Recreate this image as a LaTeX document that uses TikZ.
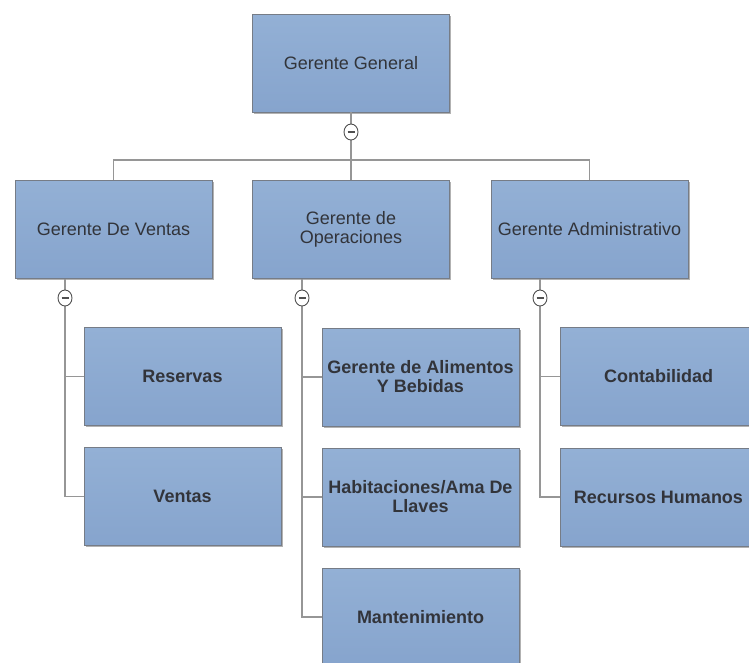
\documentclass[tikz,border=0pt]{standalone}
\usepackage{fontspec}
\setmainfont{Liberation Sans}
\usetikzlibrary{shadows,shapes.geometric}
\definecolor{boxtop}{RGB}{147,176,213}
\definecolor{boxbot}{RGB}{134,164,205}
\definecolor{boxline}{RGB}{118,124,134}
\definecolor{txt}{RGB}{50,52,58}
\definecolor{conn}{RGB}{150,150,150}
\definecolor{togline}{RGB}{80,80,80}
\begin{document}
\begin{tikzpicture}[x=1pt,y=-1pt,
  orgbox/.style={draw=boxline, line width=0.8pt, top color=boxtop, bottom color=boxbot,
    minimum width=197pt, minimum height=98pt, inner sep=2pt, align=center, text=txt,
    font=\fontsize{18}{19}\selectfont,
    drop shadow={shadow xshift=1.8pt, shadow yshift=-1.8pt, opacity=0.3, fill=black}},
  subbox/.style={orgbox, font=\fontsize{18}{19}\selectfont\bfseries},
  toggle/.style={ellipse, draw=togline, fill=white, line width=0.9pt,
    minimum width=14pt, minimum height=16pt, inner sep=0pt,
    path picture={\draw[line width=1.8pt, togline]
      ([xshift=-3.5pt]path picture bounding box.center) -- ([xshift=3.5pt]path picture bounding box.center);}},
  wire/.style={draw=conn, line width=1.3pt}]
\useasboundingbox (0,0) rectangle (749,662);
\clip (0,0) rectangle (749,662);
% boxes
\node[orgbox] (gg) at (351,63) {Gerente General};
\node[orgbox] (gv) at (113.5,229.5) {Gerente De Ventas};
\node[orgbox] (go) at (351,229.5) {Gerente de\\Operaciones};
\node[orgbox] (ga) at (589.5,229.5) {Gerente Administrativo};
\node[subbox] (res) at (182.5,376.5) {Reservas};
\node[subbox] (ven) at (182.5,496.5) {Ventas};
\node[subbox] (gab) at (420.5,377) {Gerente de Alimentos\\Y Bebidas};
\node[subbox] (hab) at (420.5,497) {Habitaciones/Ama De\\Llaves};
\node[subbox] (man) at (420.5,617) {Mantenimiento};
\node[subbox] (con) at (658.5,376.5) {Contabilidad};
\node[subbox] (rh) at (658.5,497) {Recursos Humanos};
% toggle positions
\coordinate (t0) at (351,132);
\coordinate (t1) at (65,298);
\coordinate (t2) at (302,298);
\coordinate (t3) at (540,298);
% connectors
\draw[wire] (gg.south) -- (go.north);
\draw[wire] (gv.north) -- ++(0,-20) -| (ga.north);
\draw[wire] (t1 |- gv.south) -- (t1 |- ven.west) -- (ven.west);
\draw[wire] (t1 |- res.west) -- (res.west);
\draw[wire] (t2 |- go.south) -- (t2 |- man.west) -- (man.west);
\draw[wire] (t2 |- gab.west) -- (gab.west);
\draw[wire] (t2 |- hab.west) -- (hab.west);
\draw[wire] (t3 |- ga.south) -- (t3 |- rh.west) -- (rh.west);
\draw[wire] (t3 |- con.west) -- (con.west);
% toggles
\node[toggle] (c0) at (t0) {};
\node[toggle] (c1) at (t1) {};
\node[toggle] (c2) at (t2) {};
\node[toggle] (c3) at (t3) {};
\end{tikzpicture}
\end{document}
